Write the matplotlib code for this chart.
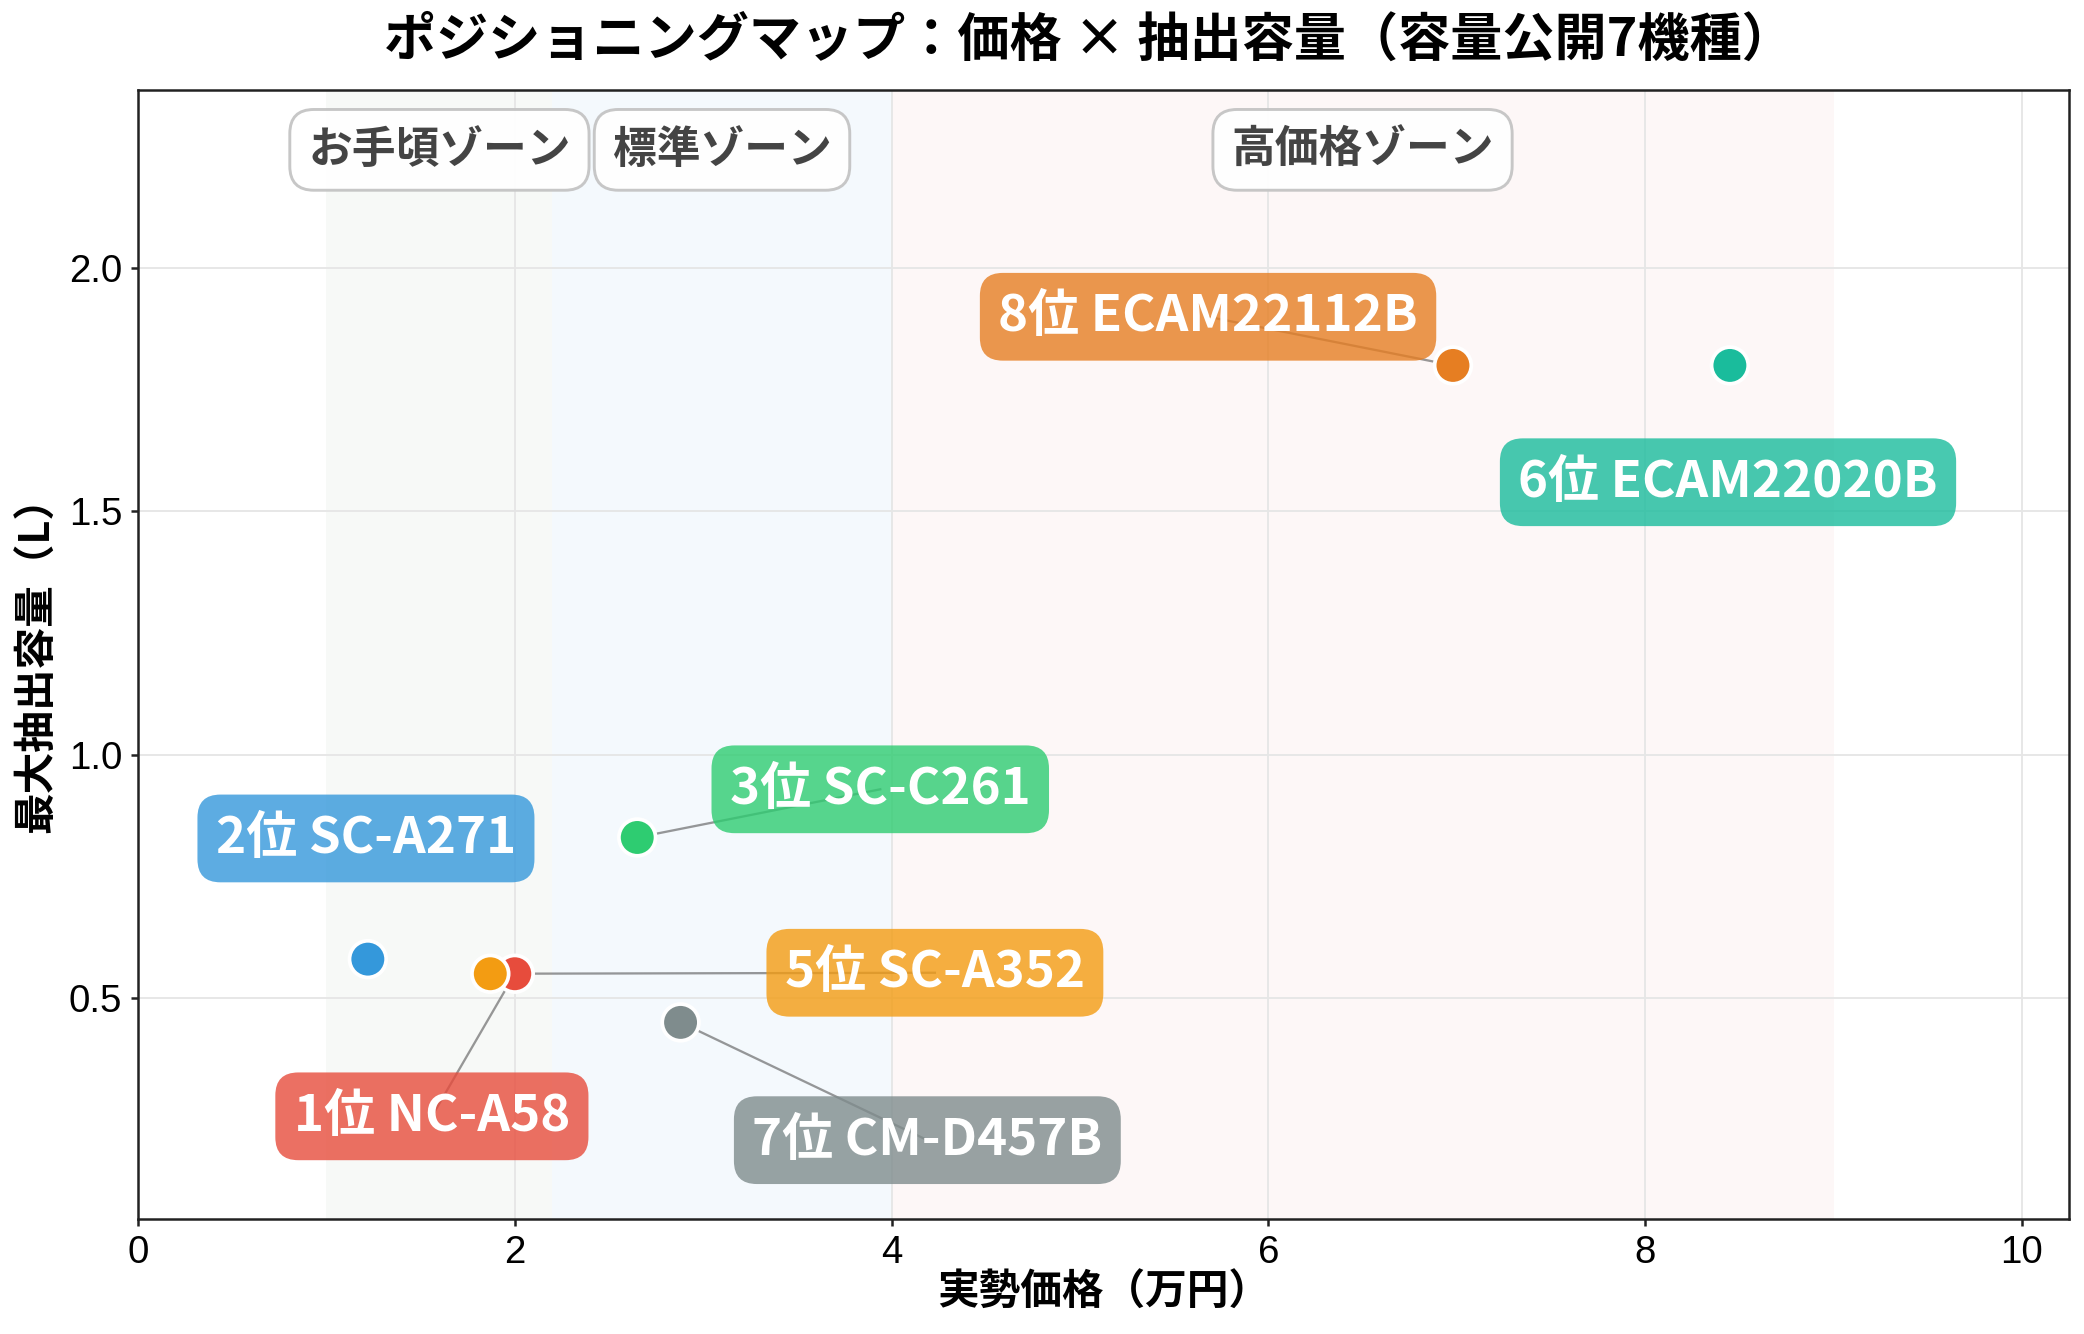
import matplotlib
matplotlib.use("Agg")
import matplotlib.pyplot as plt

plt.rcParams['font.family'] = ['Noto Sans CJK JP', 'DejaVu Sans']

# ---- data ----
names = ["1位 NC-A58", "2位 SC-A271", "3位 SC-C261", "5位 SC-A352",
         "6位 ECAM22020B", "7位 CM-D457B", "8位 ECAM22112B"]
price = [2.00, 1.22, 2.65, 1.87, 8.45, 2.88, 6.98]      # 万円
capacity = [0.55, 0.58, 0.83, 0.55, 1.80, 0.45, 1.80]  # L
label_x = [1.56, 1.21, 3.94, 4.23, 8.44, 4.19, 5.68]
label_y = [0.257, 0.828, 0.929, 0.552, 1.56, 0.208, 1.90]
draw_line = [True, False, True, True, False, True, True]
colors = ["#e74c3c", "#3498db", "#2ecc71", "#f39c12", "#1abc9c", "#7f8c8d", "#e67e22"]

zone_names = ["お手頃ゾーン", "標準ゾーン", "高価格ゾーン"]
zone_lo = [1.0, 2.2, 4.0]
zone_hi = [2.2, 4.0, 9.0]
zone_colors = ["#f7f9f7", "#f4f9fd", "#fdf7f7"]

x_ticks = [0, 2, 4, 6, 8, 10]
y_ticks = [0.5, 1.0, 1.5, 2.0]

W, H, DPI = 2084, 1334, 150
fig = plt.figure(figsize=(W / DPI, H / DPI), dpi=DPI)
ax = fig.add_axes([138 / W, 1 - 1219 / H, (2069 - 138) / W, (1219 - 90) / H])

ax.set_xlim(0, 10.25)
ax.set_ylim(0.046, 2.366)

for lo, hi, c in zip(zone_lo, zone_hi, zone_colors):
    ax.axvspan(lo, hi, color=c, zorder=0, lw=0)

ax.grid(True, color="#e6e6e6", lw=0.9, zorder=0.5)
ax.set_axisbelow(True)

for nm, lo, hi in zip(zone_names, zone_lo, zone_hi):
    ax.text((lo + hi) / 2, 2.243, nm, ha="center", va="center", fontsize=21,
            fontweight="bold", color="#444444", zorder=6,
            bbox=dict(boxstyle="round,pad=0.42,rounding_size=0.55", fc="white",
                      ec="#c4c4c4", lw=1.4, alpha=0.95))

for i in range(len(names)):
    if draw_line[i]:
        ax.plot([price[i], label_x[i]], [capacity[i], label_y[i]],
                color="#555555", lw=1.1, alpha=0.6, zorder=2)

ax.scatter(price, capacity, s=310, c=colors, edgecolors="white",
           linewidths=1.8, zorder=3)

for i in range(len(names)):
    ax.text(label_x[i], label_y[i], names[i], ha="center", va="center",
            fontsize=24.5, fontweight="bold", color="white", zorder=5,
            bbox=dict(boxstyle="round,pad=0.36,rounding_size=0.45", fc=colors[i],
                      ec="none", alpha=0.8))

ax.set_xticks(x_ticks)
ax.set_yticks(y_ticks)
ax.set_xticklabels([str(v) for v in x_ticks], family=["Liberation Sans"])
ax.set_yticklabels([f"{v:.1f}" for v in y_ticks], family=["Liberation Sans"])
ax.tick_params(labelsize=18.5, length=3.5, width=1.2, color="#222222", pad=4)
for s in ax.spines.values():
    s.set_color("#222222")
    s.set_linewidth(1.2)

ax.set_xlabel("実勢価格（万円）", fontsize=20, fontweight="bold")
ax.set_ylabel("最大抽出容量（L）", fontsize=20, fontweight="bold")
ax.xaxis.label.set_va("center")
ax.xaxis.label.set_ha("center")
ax.yaxis.label.set_va("center")
ax.yaxis.label.set_ha("center")
ax.xaxis.set_label_coords(0.5, (1219 - 1293) / (1219 - 90))
ax.yaxis.set_label_coords((37 - 138) / (2069 - 138), 0.5)

fig.text(1089 / W, 1 - 40 / H, "ポジショニングマップ：価格 × 抽出容量（容量公開7機種）",
         ha="center", va="center", fontsize=25, fontweight="bold")

fig.savefig("out.png", dpi=DPI)
